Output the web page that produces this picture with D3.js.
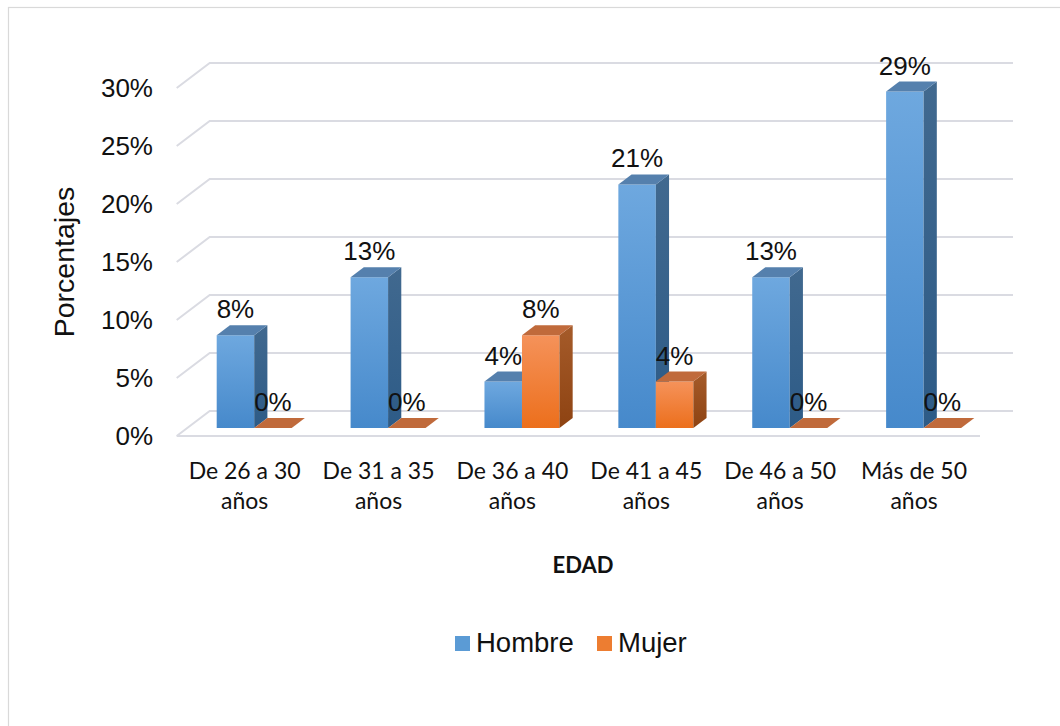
<!DOCTYPE html>
<html>
<head>
<meta charset="utf-8">
<script src="https://cdn.jsdelivr.net/npm/d3@7"></script>
<style>
  html, body { margin: 0; padding: 0; background: #ffffff; }
  svg { display: block; }
</style>
</head>
<body>
<svg id="chart" width="1060" height="726"></svg>
<script>
// Age groups and the share of each group by sex (percent)
const categories = [
  ["De 26 a 30", "años"],
  ["De 31 a 35", "años"],
  ["De 36 a 40", "años"],
  ["De 41 a 45", "años"],
  ["De 46 a 50", "años"],
  ["Más de 50", "años"]
];
const seriesNames = ["Hombre", "Mujer"];
const hombre = [8, 13, 4, 21, 13, 29];
const mujer = [0, 0, 8, 4, 0, 0];
const yTicks = [0, 5, 10, 15, 20, 25, 30];

const svg = d3.select("#chart");
const W = 1060, H = 726;

// Frame around the chart area
svg.append("rect")
  .attr("x", 8.5).attr("y", 7.5)
  .attr("width", W).attr("height", H)
  .attr("fill", "#fff").attr("stroke", "#d9d9d9").attr("stroke-width", 1.2);

// 3D box: front plane + depth offset
const front = { left: 176.7, right: 980, bottom: 436, top: 88 };
const depth = { dx: 33, dy: -25 };
const barDepth = { from: 0.32, to: 0.72 };

const y = d3.scaleLinear().domain([0, 30]).range([front.bottom, front.top]);
const xCat = d3.scaleBand()
  .domain(d3.range(categories.length))
  .range([front.left, front.right]);
const pairWidth = 75;
const xSer = d3.scaleBand().domain(seriesNames).range([-pairWidth / 2, pairWidth / 2]);

// Project a front-plane point to a depth fraction
const P = (x, yy, d) => [x + depth.dx * d, yy + depth.dy * d];

// Gradients for the bar faces
const defs = svg.append("defs");
function vGrad(id, c0, c1) {
  const g = defs.append("linearGradient").attr("id", id)
    .attr("x1", 0).attr("y1", 0).attr("x2", 0).attr("y2", 1);
  g.append("stop").attr("offset", "0%").attr("stop-color", c0);
  g.append("stop").attr("offset", "100%").attr("stop-color", c1);
}
vGrad("gBlueFront", "#6ea8df", "#4689cb");
vGrad("gBlueSide", "#41698f", "#2d5b87");
vGrad("gOrgFront", "#f5925a", "#ec6f1c");
vGrad("gOrgSide", "#a55b2a", "#8e4312");

const palette = {
  Hombre: { front: "url(#gBlueFront)", side: "url(#gBlueSide)", top: "#5580ad", key: "#5b9bd5" },
  Mujer: { front: "url(#gOrgFront)", side: "url(#gOrgSide)", top: "#c06a3b", key: "#ed7d31" }
};

// Gridlines: left wall diagonals + back wall horizontals
const grid = svg.append("g").attr("fill", "none").attr("stroke", "#dadbe2").attr("stroke-width", 2);
yTicks.forEach(t => {
  const a = P(front.left, y(t), 0);
  const b = P(front.left, y(t), 1);
  const c = P(front.right, y(t), 1);
  grid.append("path").attr("d", `M${a[0]},${a[1]}L${b[0]},${b[1]}L${c[0]},${c[1]}`);
});
// Floor front edge
grid.append("line")
  .attr("x1", front.left).attr("x2", front.right)
  .attr("y1", y(0)).attr("y2", y(0));

// Y axis tick labels
svg.append("g")
  .selectAll("text").data(yTicks).join("text")
  .attr("x", 153).attr("y", d => y(d)).attr("dy", "0.36em")
  .attr("text-anchor", "end")
  .attr("font-family", "Liberation Sans, Arial, sans-serif")
  .attr("font-size", 26).attr("fill", "#111")
  .text(d => d + "%");

// Y axis title
svg.append("text")
  .attr("transform", "translate(74,262) rotate(-90)")
  .attr("text-anchor", "middle")
  .attr("font-family", "Liberation Sans, Arial, sans-serif")
  .attr("font-size", 28.5).attr("fill", "#111")
  .text("Porcentajes");

// Bars
const rows = categories.map((c, i) => ({ i, values: [hombre[i], mujer[i]] }));
const bars = svg.append("g");
const labels = [];
rows.forEach(r => {
  seriesNames.forEach((s, k) => {
    const v = r.values[k];
    const x0 = xCat(r.i) + xCat.bandwidth() / 2 + xSer(s);
    const x1 = x0 + xSer.bandwidth();
    const yb = y(0), yt = y(v);
    const d0 = barDepth.from, d1 = barDepth.to;
    const pts = {
      fbl: P(x0, yb, d0), fbr: P(x1, yb, d0), ftl: P(x0, yt, d0), ftr: P(x1, yt, d0),
      bbr: P(x1, yb, d1), btl: P(x0, yt, d1), btr: P(x1, yt, d1)
    };
    const poly = arr => "M" + arr.map(p => p.join(",")).join("L") + "Z";
    const g = bars.append("g");
    const col = palette[s];
    if (v > 0) {
      g.append("path").attr("d", poly([pts.ftl, pts.ftr, pts.fbr, pts.fbl])).attr("fill", col.front);
      g.append("path").attr("d", poly([pts.ftr, pts.btr, pts.bbr, pts.fbr])).attr("fill", col.side);
    }
    g.append("path").attr("d", poly([pts.ftl, pts.btl, pts.btr, pts.ftr])).attr("fill", col.top);
    labels.push({ x: (pts.ftl[0] + pts.ftr[0]) / 2, y: pts.btl[1] - 7, text: v + "%" });
  });
});

// Value labels
svg.append("g")
  .selectAll("text").data(labels).join("text")
  .attr("x", d => d.x).attr("y", d => d.y)
  .attr("text-anchor", "middle")
  .attr("font-family", "Liberation Sans, Arial, sans-serif")
  .attr("font-size", 26).attr("fill", "#111")
  .text(d => d.text);

// Category labels (two lines)
const catG = svg.append("g")
  .attr("font-family", "Lato, 'Open Sans', sans-serif")
  .attr("font-size", 23).attr("fill", "#111").attr("text-anchor", "middle");
categories.forEach((c, i) => {
  const cx = xCat(i) + xCat.bandwidth() / 2 + 1;
  const t = catG.append("text").attr("x", cx).attr("y", 479);
  t.append("tspan").attr("x", cx).attr("dy", 0).text(c[0]);
  t.append("tspan").attr("x", cx).attr("dy", 30).text(c[1]);
});

// X axis title
svg.append("text")
  .attr("x", 583).attr("y", 573)
  .attr("text-anchor", "middle")
  .attr("font-family", "Lato, 'Open Sans', sans-serif")
  .attr("font-weight", "bold")
  .attr("font-size", 22).attr("fill", "#111")
  .text("EDAD");

// Legend
const legendX = [455, 597];
const legend = svg.append("g");
seriesNames.forEach((s, k) => {
  legend.append("rect")
    .attr("x", legendX[k]).attr("y", 636)
    .attr("width", 15).attr("height", 15)
    .attr("fill", palette[s].key);
  legend.append("text")
    .attr("x", legendX[k] + 21).attr("y", 652)
    .attr("font-family", "Liberation Sans, Arial, sans-serif")
    .attr("font-size", 27.5).attr("fill", "#111")
    .text(s);
});
</script>
</body>
</html>
